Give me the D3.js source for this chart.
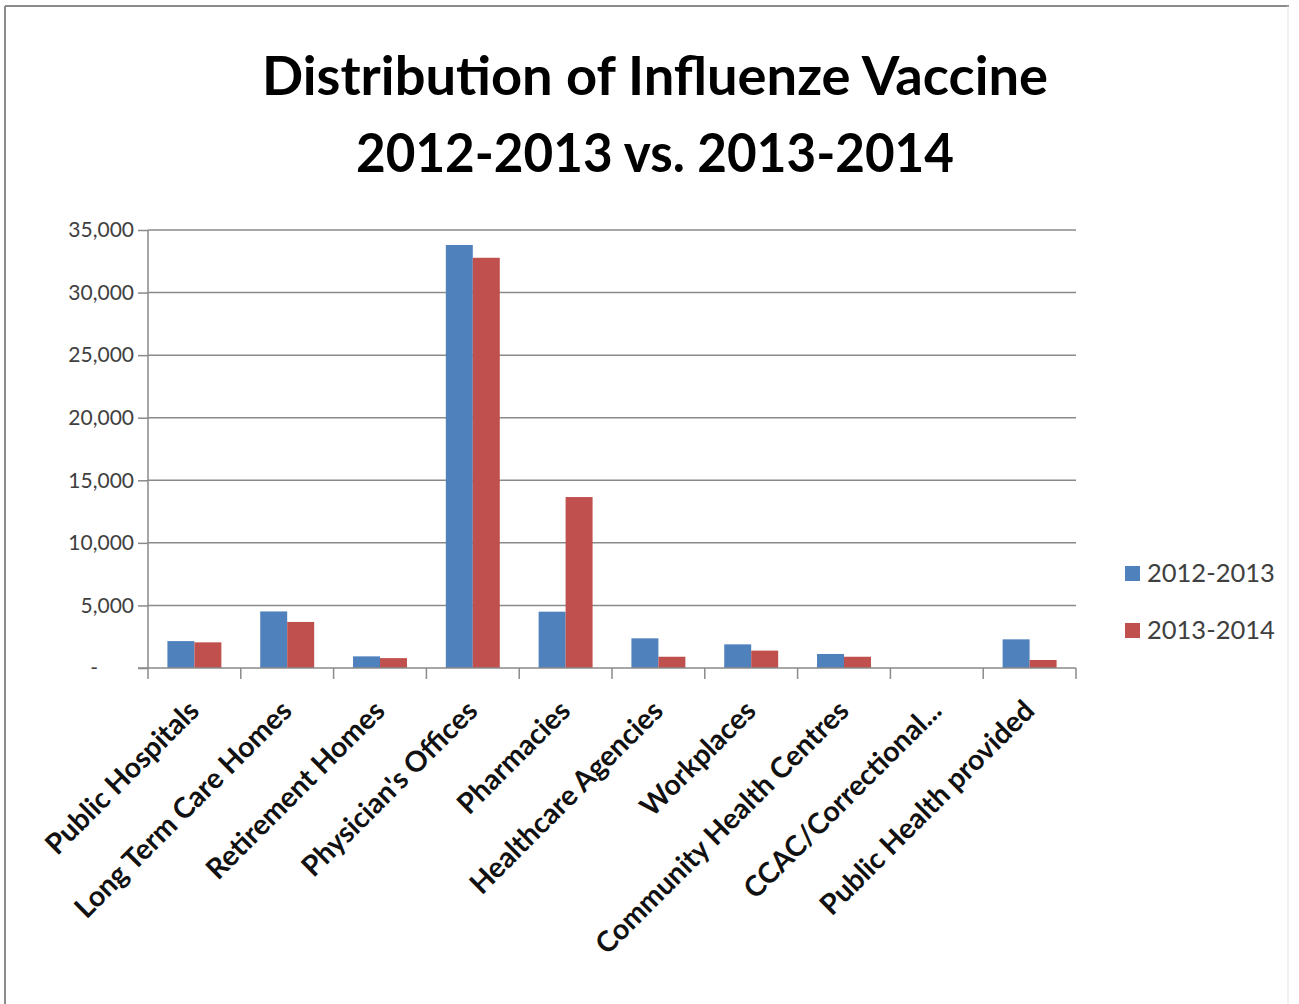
<!DOCTYPE html>
<html><head><meta charset="utf-8">
<script src="https://cdn.jsdelivr.net/npm/d3@7"></script>
<style>body{margin:0;background:#fff}svg{display:block}</style>
</head><body>
<script>
const categories = ["Public Hospitals","Long Term Care Homes","Retirement Homes","Physician's Offices","Pharmacies","Healthcare Agencies","Workplaces","Community Health Centres","CCAC/Correctional...","Public Health provided"];
const seriesNames = ["2012-2013","2013-2014"];
const values2012 = [2150, 4520, 930, 33800, 4500, 2370, 1890, 1120, 0, 2290];
const values2013 = [2050, 3680, 790, 32780, 13660, 900, 1390, 900, 0, 640];
const yTicks = [0,5000,10000,15000,20000,25000,30000,35000];
const titleLines = ["Distribution of Influenze Vaccine","2012-2013 vs. 2013-2014"];
const colors = ["#4F81BD","#C0504D"];

const W=1299,H=1004;
const svg=d3.select("body").append("svg").attr("width",W).attr("height",H);
svg.append("rect").attr("width",W).attr("height",H).attr("fill","#fff");
// frame
svg.append("line").attr("x1",5).attr("y1",6).attr("x2",1289).attr("y2",6).attr("stroke","#8c8c8c").attr("stroke-width",2);
svg.append("line").attr("x1",5).attr("y1",6).attr("x2",5).attr("y2",1004).attr("stroke","#8c8c8c").attr("stroke-width",2);
svg.append("line").attr("x1",1288).attr("y1",6).attr("x2",1288).attr("y2",1004).attr("stroke","#e2e2e2").attr("stroke-width",1);

const x0=d3.scaleBand().domain(categories).range([148,1076]).paddingInner(0).paddingOuter(0);
const x1=d3.scaleBand().domain(seriesNames).range([0,x0.bandwidth()]).paddingOuter(0.72).paddingInner(0);
const y=d3.scaleLinear().domain([0,35000]).range([668,230]);

// gridlines
svg.append("g").selectAll("line").data(yTicks.filter(d=>d>0)).join("line")
  .attr("x1",148).attr("x2",1076).attr("y1",d=>y(d)).attr("y2",d=>y(d))
  .attr("stroke","#8a8a8a").attr("stroke-width",1.5);

// bars
const data=categories.map((c,i)=>({c,vals:[values2012[i],values2013[i]]}));
const g=svg.append("g");
g.selectAll("g").data(data).join("g").attr("transform",d=>`translate(${x0(d.c)},0)`)
 .selectAll("rect").data(d=>d.vals.map((v,j)=>({v,s:seriesNames[j],j}))).join("rect")
 .attr("x",d=>x1(d.s)).attr("width",x1.bandwidth()).attr("y",d=>y(d.v)).attr("height",d=>y(0)-y(d.v))
 .attr("fill",d=>colors[d.j]);

// y axis
const yAxis=d3.axisLeft(y).tickValues(yTicks).tickSize(10).tickPadding(4)
  .tickFormat(d=>d===0?"-":d3.format(",")(d));
const ya=svg.append("g").attr("transform","translate(148,0)").call(yAxis);
ya.select(".domain").attr("stroke","#8a8a8a").attr("stroke-width",1.5).attr("d","M0,230V668");
ya.selectAll(".tick line").attr("stroke","#8a8a8a").attr("stroke-width",1.5);
ya.selectAll(".tick text").attr("font-family","Lato, sans-serif").attr("font-size",21).attr("fill","#404040")
  .attr("x",d=>d===0?-50:-14);

// x axis
const xTickScale=d3.scaleLinear().domain([0,categories.length]).range([148,1076]);
const xa=svg.append("g");
xa.append("line").attr("x1",138).attr("x2",1076).attr("y1",668).attr("y2",668).attr("stroke","#8a8a8a").attr("stroke-width",1.5);
xa.selectAll(".xt").data(d3.range(categories.length+1)).join("line").attr("class","xt")
  .attr("x1",d=>xTickScale(d)).attr("x2",d=>xTickScale(d)).attr("y1",668).attr("y2",679)
  .attr("stroke","#8a8a8a").attr("stroke-width",1.5);
xa.selectAll(".xl").data(categories).join("text").attr("class","xl")
  .attr("transform",d=>`translate(${x0(d)+x0.bandwidth()/2-8},698) rotate(-45)`)
  .attr("text-anchor","end").attr("dy","0.72em")
  .attr("font-family","Lato, sans-serif").attr("font-weight","bold").attr("font-size",28.5).attr("fill","#111")
  .text(d=>d);

// title
svg.selectAll(".title").data(titleLines).join("text").attr("class","title")
  .attr("x",655).attr("y",(d,i)=>95+i*77).attr("text-anchor","middle")
  .attr("font-family","Lato, sans-serif").attr("font-weight","bold").attr("font-size",54).attr("fill","#000")
  .attr("textLength",(d,i)=>i===0?786:598).attr("lengthAdjust","spacingAndGlyphs")
  .text(d=>d);

// legend
const lg=svg.append("g").selectAll("g").data(seriesNames).join("g")
  .attr("transform",(d,i)=>`translate(1125,${566+i*57})`);
lg.append("rect").attr("width",15).attr("height",15).attr("fill",(d,i)=>colors[i]);
lg.append("text").attr("x",22).attr("y",16).attr("font-family","Lato, sans-serif").attr("font-size",25.5).attr("fill","#404040").text(d=>d);
</script>
</body></html>
